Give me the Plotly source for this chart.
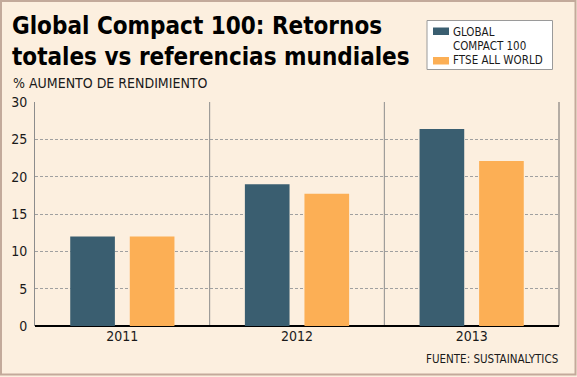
import plotly.graph_objects as go

years = ["2011", "2012", "2013"]
gc100 = [12.0, 19.0, 26.4]
ftse = [12.0, 17.7, 22.1]
series_names = ["GLOBAL COMPACT 100", "FTSE ALL WORLD"]
legend_lines_gc = ["GLOBAL", "COMPACT 100"]
legend_label_ft = "FTSE ALL WORLD"
y_ticks = [0, 5, 10, 15, 20, 25, 30]
title_text = "Global Compact 100: Retornos<br>totales vs referencias mundiales"
subtitle_text = "% AUMENTO DE RENDIMIENTO"
source_text = "FUENTE: SUSTAINALYTICS"

C_GC = "#3a5e70"
C_FT = "#fcaf55"
BG = "#fcefdf"
FONT = "DejaVu Sans Condensed"

W, H = 577, 377
L, R, T, B = 35, 18, 102, 51
pw = W - L - R
ph = H - T - B


def px(x):
    return (x - L) / pw


def py(y):
    return (H - B - y) / ph


fig = go.Figure()
fig.add_trace(go.Bar(x=years, y=gc100, name=series_names[0], marker=dict(color=C_GC, line=dict(width=0)), showlegend=False))
fig.add_trace(go.Bar(x=years, y=ftse, name=series_names[1], marker=dict(color=C_FT, line=dict(width=0)), showlegend=False))

shapes = []
# outer frame
shapes.append(dict(type="rect", xref="paper", yref="paper", x0=px(1), x1=px(575.5), y0=py(1), y1=py(374.5),
                   line=dict(color="#c3aa9b", width=2), layer="below"))
# vertical separators
for xv in [0.5, 1.5]:
    shapes.append(dict(type="line", xref="x", yref="y", x0=xv, x1=xv, y0=0, y1=30,
                       line=dict(color="#8c8c8c", width=1), layer="below"))
# right border of plot
shapes.append(dict(type="line", xref="paper", yref="y", x0=1, x1=1, y0=0, y1=30,
                   line=dict(color="#b4aca4", width=2), layer="below"))
# legend box
shapes.append(dict(type="rect", xref="paper", yref="paper", x0=px(427), x1=px(552.5), y0=py(20.5), y1=py(69.5),
                   fillcolor="white", line=dict(color="#9a9a9a", width=1)))
# legend swatches
shapes.append(dict(type="rect", xref="paper", yref="paper", x0=px(433), x1=px(449), y0=py(27.5), y1=py(35),
                   fillcolor=C_GC, line=dict(width=0)))
shapes.append(dict(type="rect", xref="paper", yref="paper", x0=px(433), x1=px(449), y0=py(57), y1=py(64.5),
                   fillcolor=C_FT, line=dict(width=0)))

leg_font = dict(family=FONT, size=11.5, color="#1a1a1a")
annotations = [
    dict(text="<b>" + title_text + "</b>", xref="paper", yref="paper", x=px(10), y=py(10),
         xanchor="left", yanchor="top", align="left", showarrow=False,
         font=dict(family=FONT, size=24, color="black")),
    dict(text=subtitle_text, xref="paper", yref="paper", x=px(11), y=py(73),
         xanchor="left", yanchor="top", align="left", showarrow=False,
         font=dict(family=FONT, size=14, color="#1a1a1a")),
    dict(text=legend_lines_gc[0], xref="paper", yref="paper", x=px(451), y=py(31.5),
         xanchor="left", yanchor="middle", align="left", showarrow=False, font=leg_font),
    dict(text=legend_lines_gc[1], xref="paper", yref="paper", x=px(451), y=py(45.5),
         xanchor="left", yanchor="middle", align="left", showarrow=False, font=leg_font),
    dict(text=legend_label_ft, xref="paper", yref="paper", x=px(451), y=py(60.5),
         xanchor="left", yanchor="middle", align="left", showarrow=False, font=leg_font),
    dict(text=source_text, xref="paper", yref="paper", x=px(560), y=py(358.5),
         xanchor="right", yanchor="middle", align="right", showarrow=False,
         font=dict(family=FONT, size=11.5, color="#1a1a1a")),
]

fig.update_layout(
    width=W, height=H,
    margin=dict(l=L, r=R, t=T, b=B, pad=0),
    paper_bgcolor=BG, plot_bgcolor=BG,
    barmode="group", bargap=0.318, bargroupgap=0.25,
    font=dict(family=FONT, size=14, color="#1a1a1a"),
    shapes=shapes, annotations=annotations,
    xaxis=dict(type="category", showgrid=False, showline=False, ticks="",
               tickfont=dict(size=14), range=[-0.5, 2.5], fixedrange=True),
    yaxis=dict(range=[0, 30], tickvals=y_ticks, showgrid=True, gridcolor="#a0a0a0",
               griddash="3px,2px", gridwidth=1, zeroline=True, zerolinecolor="black",
               zerolinewidth=1.5, showline=True, linecolor="#8c8c8c", linewidth=1,
               ticks="", tickfont=dict(size=14), ticklabelstandoff=4, fixedrange=True),
)

fig.write_html("out.html", config={"displayModeBar": False, "staticPlot": True},
               post_script="document.body.style.margin='0';document.body.style.overflow='hidden';")
